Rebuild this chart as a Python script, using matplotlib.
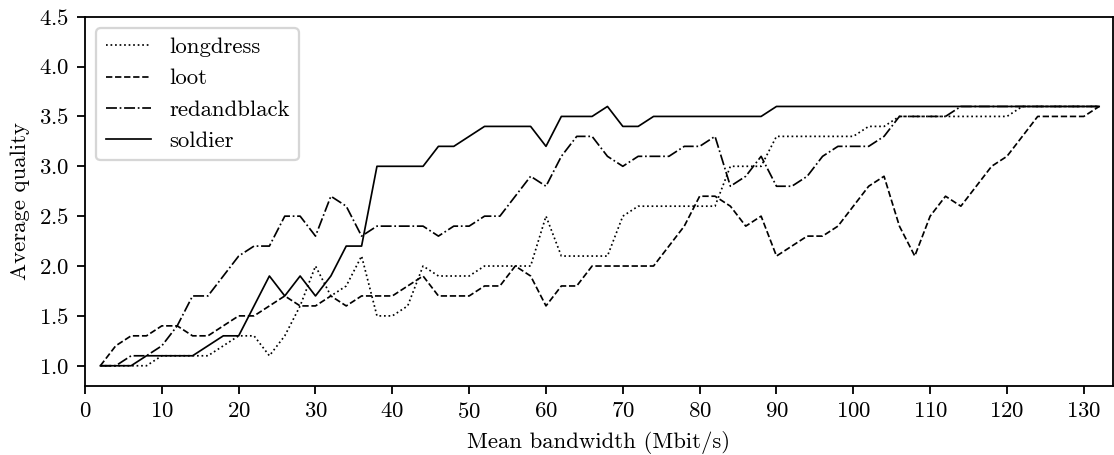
import matplotlib
matplotlib.use("Agg")
import matplotlib.pyplot as plt
import numpy as np

plt.rcParams['font.family'] = ['cmr10', 'DejaVu Serif']
plt.rcParams['mathtext.fontset'] = 'cm'
plt.rcParams['axes.formatter.use_mathtext'] = True
plt.rcParams['font.size'] = 10

bandwidth = list(range(2, 133, 2))

longdress = [1.0, 1.0, 1.0, 1.0, 1.1, 1.1, 1.1, 1.1, 1.2, 1.3, 1.3, 1.1, 1.3, 1.6, 2.0, 1.7, 1.8, 2.1,
             1.5, 1.5, 1.6, 2.0, 1.9, 1.9, 1.9, 2.0, 2.0, 2.0, 2.0, 2.5, 2.1, 2.1, 2.1, 2.1, 2.5, 2.6, 2.6,
             2.6, 2.6, 2.6, 2.6, 3.0, 3.0, 3.0,
             3.3, 3.3, 3.3, 3.3, 3.3, 3.3, 3.4, 3.4, 3.5, 3.5, 3.5, 3.5, 3.5, 3.5, 3.5, 3.5, 3.6,
             3.6, 3.6, 3.6, 3.6, 3.6]

loot = [1.0, 1.2, 1.3, 1.3, 1.4, 1.4, 1.3, 1.3, 1.4, 1.5, 1.5, 1.6, 1.7, 1.6, 1.6, 1.7, 1.6, 1.7,
        1.7, 1.7, 1.8, 1.9, 1.7, 1.7, 1.7, 1.8, 1.8, 2.0, 1.9, 1.6, 1.8, 1.8, 2.0, 2.0, 2.0, 2.0, 2.0,
        2.2, 2.4, 2.7, 2.7, 2.6, 2.4, 2.5,
        2.1, 2.2, 2.3, 2.3, 2.4, 2.6, 2.8, 2.9, 2.4, 2.1, 2.5, 2.7, 2.6, 2.8, 3.0, 3.1, 3.3,
        3.5, 3.5, 3.5, 3.5, 3.6]

redandblack = [1.0, 1.0, 1.1, 1.1, 1.2, 1.4, 1.7, 1.7, 1.9, 2.1, 2.2, 2.2, 2.5, 2.5, 2.3, 2.7, 2.6, 2.3,
               2.4, 2.4, 2.4, 2.4, 2.3, 2.4, 2.4, 2.5, 2.5, 2.7, 2.9, 2.8, 3.1, 3.3, 3.3, 3.1, 3.0, 3.1, 3.1,
               3.1, 3.2, 3.2, 3.3, 2.8, 2.9, 3.1,
               2.8, 2.8, 2.9, 3.1, 3.2, 3.2, 3.2, 3.3, 3.5, 3.5, 3.5, 3.5, 3.6,
               3.6, 3.6, 3.6, 3.6, 3.6, 3.6, 3.6, 3.6, 3.6]

soldier = [1.0, 1.0, 1.0, 1.1, 1.1, 1.1, 1.1, 1.2, 1.3, 1.3, 1.6, 1.9, 1.7, 1.9, 1.7, 1.9, 2.2, 2.2,
           3.0, 3.0, 3.0, 3.0, 3.2, 3.2, 3.3, 3.4, 3.4, 3.4, 3.4, 3.2, 3.5, 3.5, 3.5, 3.6, 3.4, 3.4, 3.5,
           3.5, 3.5, 3.5, 3.5, 3.5, 3.5, 3.5,
           3.6, 3.6, 3.6, 3.6, 3.6, 3.6, 3.6, 3.6, 3.6, 3.6, 3.6, 3.6, 3.6, 3.6, 3.6, 3.6, 3.6,
           3.6, 3.6, 3.6, 3.6, 3.6]

series_names = ['longdress', 'loot', 'redandblack', 'soldier']
series_values = [longdress, loot, redandblack, soldier]
styles = [':', '--', '-.', '-']

W, H, DPI = 1114, 455, 164
fig = plt.figure(figsize=(W / DPI, H / DPI), dpi=DPI)
ax = fig.add_axes([85 / W, (H - 385.7) / H, (1113 - 85) / W, (385.7 - 16.7) / H])

for name, vals, ls in zip(series_names, series_values, styles):
    ax.plot(bandwidth, vals, linestyle=ls, color='black', linewidth=0.75, label=name)

ax.set_xlim(0, 133.8)
ax.set_ylim(0.8, 4.5)
ax.set_xticks(np.arange(0, 131, 10))
ax.set_yticks(np.arange(1.0, 4.51, 0.5))
ax.set_xlabel('Mean bandwidth (Mbit/s)')
ax.set_ylabel('Average quality')
ax.legend(loc='upper left')

fig.savefig('out.png', dpi=DPI)
